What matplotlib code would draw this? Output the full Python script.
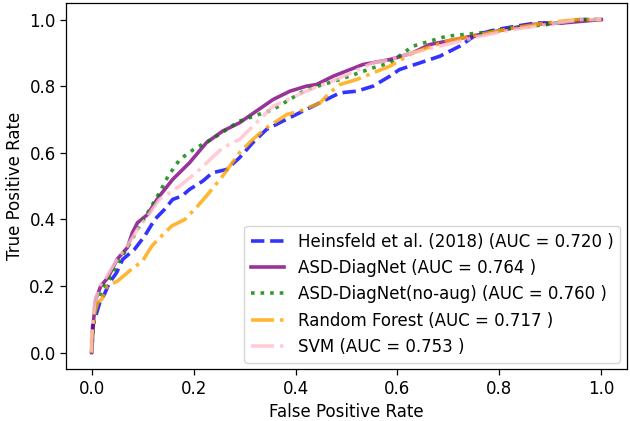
import matplotlib
matplotlib.use("Agg")
import matplotlib.pyplot as plt

labels = [
    "Heinsfeld et al. (2018) (AUC = 0.720 )",
    "ASD-DiagNet (AUC = 0.764 )",
    "ASD-DiagNet(no-aug) (AUC = 0.760 )",
    "Random Forest (AUC = 0.717 )",
    "SVM (AUC = 0.753 )",
]

heins_fpr = [0.0, 0.002, 0.010, 0.016, 0.025, 0.035, 0.049, 0.061, 0.084, 0.104, 0.124, 0.143, 0.159, 0.177,
             0.192, 0.218, 0.237, 0.265, 0.290, 0.316, 0.343, 0.375, 0.421, 0.454, 0.487, 0.520, 0.552, 0.585,
             0.604, 0.644, 0.683, 0.722, 0.755, 0.794, 0.840, 0.873, 0.92, 0.958, 1.0]
heins_tpr = [0.0, 0.08, 0.12, 0.15, 0.175, 0.21, 0.24, 0.28, 0.31, 0.35, 0.40, 0.43, 0.46, 0.47,
             0.49, 0.515, 0.54, 0.55, 0.585, 0.63, 0.67, 0.695, 0.73, 0.755, 0.78, 0.785, 0.80, 0.83,
             0.85, 0.87, 0.89, 0.92, 0.955, 0.97, 0.982, 0.99, 0.99, 1.0, 1.0]

diag_fpr = [0.0, 0.004, 0.008, 0.018, 0.032, 0.050, 0.070, 0.080, 0.090, 0.110, 0.124, 0.133, 0.159, 0.192,
            0.225, 0.257, 0.290, 0.323, 0.356, 0.389, 0.421, 0.441, 0.474, 0.532, 0.585, 0.630, 0.663, 0.729,
            0.794, 0.860, 0.925, 1.0]
diag_tpr = [0.0, 0.10, 0.16, 0.20, 0.225, 0.28, 0.315, 0.36, 0.39, 0.415, 0.45, 0.47, 0.52, 0.57,
            0.63, 0.665, 0.69, 0.725, 0.76, 0.785, 0.80, 0.805, 0.83, 0.865, 0.88, 0.90, 0.925, 0.945,
            0.965, 0.985, 0.99, 1.0]

noaug_fpr = [0.0, 0.004, 0.010, 0.020, 0.035, 0.052, 0.072, 0.090, 0.110, 0.133, 0.150, 0.173, 0.200,
             0.240, 0.290, 0.356, 0.421, 0.487, 0.552, 0.585, 0.630, 0.696, 0.761, 0.827, 0.892, 0.96, 1.0]
noaug_tpr = [0.0, 0.09, 0.14, 0.19, 0.22, 0.27, 0.32, 0.37, 0.42, 0.48, 0.53, 0.58, 0.61,
             0.645, 0.695, 0.73, 0.79, 0.82, 0.855, 0.87, 0.92, 0.95, 0.96, 0.975, 0.985, 1.0, 1.0]

rf_fpr = [0.0, 0.0, 0.006, 0.012, 0.020, 0.031, 0.051, 0.078, 0.100, 0.118, 0.137, 0.157, 0.183, 0.208,
          0.225, 0.257, 0.290, 0.316, 0.343, 0.383, 0.408, 0.448, 0.467, 0.487, 0.520, 0.552, 0.585,
          0.630, 0.696, 0.761, 0.827, 0.892, 0.95, 1.0]
rf_tpr = [0.0, 0.04, 0.12, 0.15, 0.16, 0.20, 0.215, 0.25, 0.275, 0.32, 0.35, 0.38, 0.40, 0.44,
          0.47, 0.53, 0.60, 0.64, 0.675, 0.715, 0.725, 0.75, 0.78, 0.805, 0.82, 0.84, 0.86,
          0.90, 0.935, 0.955, 0.975, 0.99, 1.0, 1.0]

svm_fpr = [0.0, 0.0, 0.006, 0.016, 0.030, 0.050, 0.070, 0.090, 0.110, 0.133, 0.173, 0.212, 0.257,
           0.290, 0.323, 0.356, 0.421, 0.487, 0.552, 0.585, 0.630, 0.696, 0.761, 0.827, 0.892, 0.96, 1.0]
svm_tpr = [0.0, 0.05, 0.15, 0.20, 0.23, 0.28, 0.32, 0.37, 0.41, 0.46, 0.50, 0.55, 0.615,
           0.64, 0.69, 0.74, 0.785, 0.825, 0.87, 0.88, 0.90, 0.925, 0.95, 0.97, 0.985, 1.0, 1.0]

series = [
    (heins_fpr, heins_tpr, "blue", "--"),
    (diag_fpr, diag_tpr, "purple", "-"),
    (noaug_fpr, noaug_tpr, "green", ":"),
    (rf_fpr, rf_tpr, "orange", "-."),
    (svm_fpr, svm_tpr, "pink", "-."),
]

plt.rcParams["font.family"] = ["DejaVu Sans"]
fig = plt.figure(figsize=(6.3, 4.21), dpi=100)
ax = fig.add_axes([0.105, 0.123, 0.890, 0.870])

for (fx, fy, col, ls), lab in zip(series, labels):
    ax.plot(fx, fy, color=col, linestyle=ls, linewidth=2.6, alpha=0.8, label=lab)

ax.set_xlabel("False Positive Rate", fontsize=12)
ax.set_ylabel("True Positive Rate", fontsize=12)
ax.tick_params(labelsize=12, width=0.9, length=4)
for s in ax.spines.values():
    s.set_linewidth(0.9)
ax.set_xticks([0.0, 0.2, 0.4, 0.6, 0.8, 1.0])
ax.set_yticks([0.0, 0.2, 0.4, 0.6, 0.8, 1.0])
ax.legend(loc="lower right", fontsize=12, borderaxespad=0.4)

fig.savefig("out.png", dpi=100)
